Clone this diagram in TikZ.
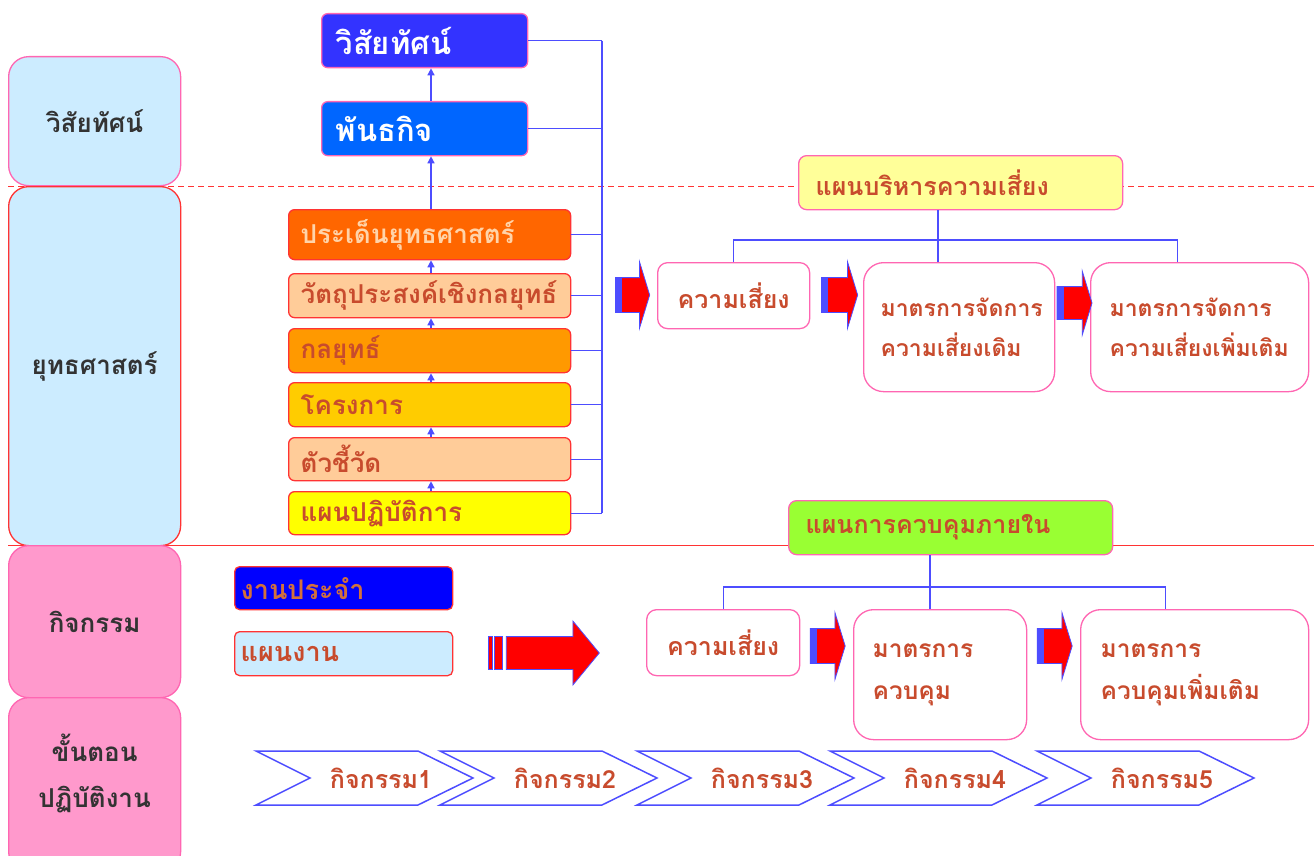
\documentclass[tikz,border=0pt]{standalone}
\usepackage{fontspec}
\newfontfamily\thaifont[Script=Thai]{Loma}
\usetikzlibrary{arrows.meta,positioning,shapes.arrows}

\definecolor{sideblue}{HTML}{CCECFF}
\definecolor{sidepink}{HTML}{FF99CC}
\definecolor{edgepink}{HTML}{FF66B2}
\definecolor{edgered}{HTML}{FF3333}
\definecolor{lineblue}{HTML}{4D4DFF}
\definecolor{visblue}{HTML}{3333FF}
\definecolor{misblue}{HTML}{0066FF}
\definecolor{tierA}{HTML}{FF6600}
\definecolor{tierB}{HTML}{FFCC99}
\definecolor{tierC}{HTML}{FF9900}
\definecolor{tierD}{HTML}{FFCC00}
\definecolor{tierE}{HTML}{FFFF00}
\definecolor{planyellow}{HTML}{FFFF99}
\definecolor{plangreen}{HTML}{99FF33}
\definecolor{darktext}{HTML}{333333}
\definecolor{rusttext}{HTML}{C84B2D}
\definecolor{peachtext}{HTML}{FFD4AA}
\definecolor{jobtext}{HTML}{D2703C}

\begin{document}
\begin{tikzpicture}
  [x=1pt,y=-1pt,line width=1.3pt,
   every node/.style={font=\thaifont\bfseries,inner sep=0pt},
   side/.style={anchor=north west,rounded corners=20pt,draw=edgepink,fill=sidepink,minimum width=172pt,
     text=darktext,align=center,font=\thaifont\bfseries\fontsize{26}{46}\selectfont},
   head/.style={anchor=north west,rounded corners=6pt,draw=edgepink,minimum height=54pt,text width=178pt,
     inner xsep=14pt,align=left,text=white,font=\thaifont\bfseries\fontsize{31}{34}\selectfont},
   tier/.style={anchor=north west,rounded corners=6pt,draw=edgered,minimum height=44pt,text width=258pt,
     inner xsep=12pt,align=left,text=rusttext,font=\thaifont\bfseries\fontsize{26}{28}\selectfont},
   plan/.style={anchor=north west,rounded corners=8pt,draw=edgepink,minimum height=54pt,text width=290pt,
     inner xsep=17pt,align=left,text=rusttext,font=\thaifont\bfseries\fontsize{25}{28}\selectfont},
   wbox/.style={anchor=north west,rounded corners=20pt,draw=edgepink,fill=white,align=left,text=rusttext,
     font=\thaifont\bfseries\fontsize{23}{40}\selectfont},
   riskbox/.style={wbox,rounded corners=10pt,minimum height=66pt,align=center,
     font=\thaifont\bfseries\fontsize{25}{28}\selectfont},
   job/.style={anchor=north west,rounded corners=5pt,draw=edgered,minimum height=43pt,text width=206pt,
     inner xsep=6pt,align=left,font=\thaifont\bfseries\fontsize{27}{30}\selectfont},
   blockarrow/.style={single arrow,fill=red,draw=lineblue,line width=0.8pt,minimum height=35pt,
     inner ysep=17pt,single arrow head extend=16pt,single arrow tip angle=146},
   chevline/.style={draw=lineblue,fill=white,line width=1.5pt},
   chevtext/.style={text=rusttext,font=\thaifont\bfseries\fontsize{25}{28}\selectfont},
   link/.style={draw=lineblue},
   up/.style={link,-{Triangle[length=7pt,width=7pt]}}]

  \clip (0,0) rectangle (1314,856);

  % section lines
  \draw[edgered,line width=1pt,dash pattern=on 6pt off 4pt] (8,186) -- (1314,186);
  \draw[edgered,line width=1pt] (8,545) -- (1314,545);

  % left column
  \node[side,fill=sideblue,minimum height=129pt] (sv) at (8,56) {วิสัยทัศน์};
  \node[side,fill=sideblue,draw=edgered,minimum height=359pt] (ss) at (8,186) {ยุทธศาสตร์};
  \node[side,minimum height=152pt] (sa) at (8,545) {กิจกรรม};
  \node[side,minimum height=174pt,text depth=27pt] (sp) at (8,697) {ขั้นตอน\\ปฏิบัติงาน};

  % strategy chain
  \node[head,fill=visblue] (vis) at (321,13) {วิสัยทัศน์};
  \node[head,fill=misblue] (mis) at (321,101) {พันธกิจ};
  \node[tier,fill=tierA,minimum height=50pt,text=peachtext] (issue) at (288,209) {ประเด็นยุทธศาสตร์};
  \node[tier,fill=tierB] (goal) at (288,273) {วัตถุประสงค์เชิงกลยุทธ์};
  \node[tier,fill=tierC] (tact) at (288,328) {กลยุทธ์};
  \node[tier,fill=tierD] (proj) at (288,382) {โครงการ};
  \node[tier,fill=tierB,minimum height=43pt] (kpi) at (288,437) {ตัวชี้วัด};
  \node[tier,fill=tierE,minimum height=43pt] (act) at (288,491) {แผนปฏิบัติการ};

  \coordinate (spine) at (431,0);
  \coordinate (bus) at (602,0);
  \foreach \from/\to in {act/kpi,kpi/proj,proj/tact,tact/goal,goal/issue,issue/mis,mis/vis}
    \draw[up] (\from.north -| spine) -- (\to.south -| spine);
  \foreach \n in {vis,mis,issue,goal,tact,proj,kpi,act}
    \draw[link] (\n.east) -- (\n.east -| bus);
  \draw[link] (vis.east -| bus) -- (act.east -| bus);

  % risk plan
  \node[plan,fill=planyellow] (rplan) at (798,155) {แผนบริหารความเสี่ยง};
  \node[riskbox,minimum width=152pt] (risk1) at (657,262) {ความเสี่ยง};
  \node[wbox,text width=157pt,inner xsep=17pt,minimum height=129pt] (mit1) at (863,262) {มาตรการจัดการ\\ความเสี่ยงเดิม};
  \node[wbox,text width=180pt,inner xsep=19pt,minimum height=129pt] (mit2) at (1090,262) {มาตรการจัดการ\\ความเสี่ยงเพิ่มเติม};

  \coordinate (rtrunk) at (938,240);
  \coordinate (rdrop) at ([xshift=-22pt]mit2.north);
  \draw[link] (rplan.south -| rtrunk) -- (rtrunk |- mit1.north);
  \draw[link] (risk1.north) |- (rtrunk) -| (rdrop);

  % control plan
  \node[plan,fill=plangreen] (cplan) at (788,500) {แผนการควบคุมภายใน};
  \node[riskbox,minimum width=153pt] (risk2) at (646,609) {ความเสี่ยง};
  \node[wbox,text width=135pt,inner xsep=19pt,minimum height=130pt,font=\thaifont\bfseries\fontsize{24.5}{42}\selectfont] (ctl1) at (853,609) {มาตรการ\\ควบคุม};
  \node[wbox,text width=188pt,inner xsep=20pt,minimum height=130pt,font=\thaifont\bfseries\fontsize{24.5}{42}\selectfont] (ctl2) at (1080,609) {มาตรการ\\ควบคุมเพิ่มเติม};

  \coordinate (ctrunk) at (930,587);
  \coordinate (cdrop) at ([xshift=-29pt]ctl2.north);
  \draw[link] (cplan.south -| ctrunk) -- (ctrunk |- ctl1.north);
  \draw[link] (risk2.north) |- (ctrunk) -| (cdrop);

  % routine work
  \node[job,fill=blue,text=jobtext] (routine) at (234,566) {งานประจำ};
  \node[job,fill=sideblue,text=rusttext,minimum height=44pt] (work) at (234,631) {แผนงาน};

  % block arrows
  \node[blockarrow,minimum height=34pt] (ar1) at (630,295) {};
  \node[blockarrow,minimum height=36pt] (ar2) at (837,295) {};
  \node[blockarrow,inner ysep=16pt,single arrow head extend=15.5pt] (ar3) at (1072,303) {};
  \node[blockarrow] (ar4) at (825,646) {};
  \node[blockarrow] (ar5) at (1052,646) {};
  \foreach \a in {ar1,ar2,ar3,ar4,ar5}
    \fill[lineblue] (\a.before tail) rectangle ([xshift=7pt]\a.after tail);

  \node[blockarrow,minimum height=93pt,inner ysep=16pt,single arrow head extend=15.5pt,
    single arrow tip angle=101] (big) at (546,653) {};
  \foreach \s/\e in {17/13,11/3}
    \filldraw[fill=red,draw=lineblue,line width=0.8pt] ([xshift=-\s pt]big.before tail) rectangle ([xshift=-\e pt]big.after tail);

  % steps
  \foreach \i/\L in {1/256,2/440,3/637,4/830,5/1037}{
    \draw[chevline] (\L,751) -- (\L+162,751) -- (\L+217,778) -- (\L+162,805) -- (\L,805) -- (\L+54,778) -- cycle;
    \node[chevtext] (c\i) at (\L+125,778) {กิจกรรม\i};
  }

\end{tikzpicture}
\end{document}
